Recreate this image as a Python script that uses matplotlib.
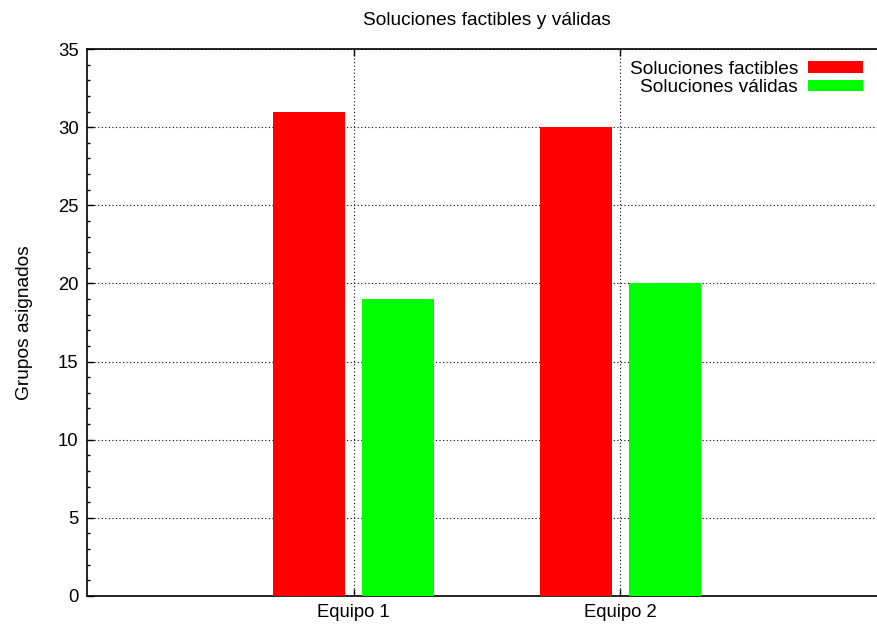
import matplotlib
matplotlib.use("Agg")
import matplotlib.pyplot as plt
from matplotlib.ticker import MultipleLocator
import numpy as np

categories = ["Equipo 1", "Equipo 2"]
series_names = ["Soluciones factibles", "Soluciones válidas"]
factibles = [31, 30]
validas = [19, 20]
colors = ["#ff0000", "#00ff00"]
yticks = [0, 5, 10, 15, 20, 25, 30, 35]

plt.rcParams['font.family'] = ['Liberation Sans', 'DejaVu Sans']
FS = 13.3
FS2 = 13.8

W, H = 878, 626
fig = plt.figure(figsize=(W / 100, H / 100), dpi=100)
ax = fig.add_axes([87 / W, 30 / H, 800 / W, 547 / H])

x = np.arange(1, len(categories) + 1)
bw = 0.27
off = 0.167
ax.bar(x - off, factibles, width=bw, color=colors[0], label=series_names[0], zorder=3)
ax.bar(x + off, validas, width=bw, color=colors[1], label=series_names[1], zorder=3)

ax.set_xlim(0, 3)
ax.set_ylim(0, 35)
ax.set_xticks(x)
ax.set_xticklabels(categories, fontsize=FS)
ax.set_yticks(yticks)
ax.set_yticklabels([str(v) for v in yticks], fontsize=FS)
ax.yaxis.set_minor_locator(MultipleLocator(1))

ax.tick_params(axis='both', which='major', direction='in', length=5, width=1, pad=6)
ax.tick_params(axis='y', which='minor', direction='in', length=2.5, width=1)
ax.tick_params(axis='x', top=True)
ax.tick_params(axis='y', right=False)

for s in ax.spines.values():
    s.set_linewidth(1.2)
ax.spines['right'].set_visible(False)

ax.grid(True, which='major', color='black', linestyle=(0, (1, 2.2)), linewidth=0.8, zorder=0)
ax.set_axisbelow(True)

ax.set_title("Soluciones factibles y válidas", fontsize=FS2, pad=17)
ax.set_ylabel("Grupos asignados", fontsize=FS2, labelpad=18)

leg = ax.legend(loc='upper right', bbox_to_anchor=(870 / W, 1 - 54 / H),
                bbox_transform=fig.transFigure, fontsize=FS2, markerfirst=False,
                frameon=True, fancybox=False, handlelength=2.9, handleheight=0.53,
                handletextpad=0.5, labelspacing=0.08, borderpad=0.35, borderaxespad=0)
leg.get_frame().set_facecolor('white')
leg.get_frame().set_edgecolor('none')
leg.get_frame().set_alpha(1)
for t in leg.get_texts():
    t.set_ha('right')
leg._legend_box.align = "right"

fig.savefig("out.png", dpi=100)
